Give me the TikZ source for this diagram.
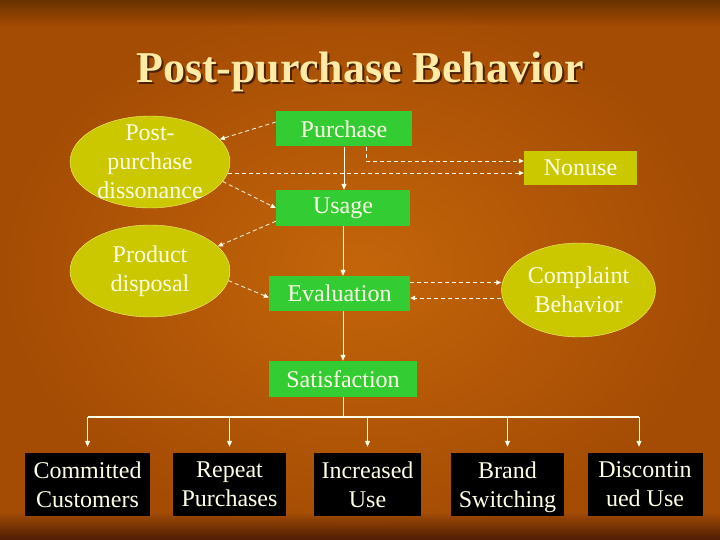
\documentclass[tikz,border=0pt]{standalone}
\usepackage{fontspec}
\setmainfont{Liberation Serif}
\usetikzlibrary{calc, shapes.geometric, fadings, arrows.meta}

\definecolor{bglight}{HTML}{C4650A}
\definecolor{bgdark}{HTML}{A44C04}
\definecolor{bgbottom}{HTML}{4E1C04}
\definecolor{bgtop}{HTML}{6A3200}
\definecolor{stepgreen}{HTML}{33CC33}
\definecolor{olivefill}{HTML}{CCC800}
\definecolor{olivedraw}{HTML}{F2EE80}
\definecolor{cream}{HTML}{FFFFE8}
\definecolor{titlecol}{HTML}{FFEAA6}
\definecolor{titleshade}{HTML}{4A2006}

\tikzfading[name=fadeband, top color=transparent!100, bottom color=transparent!0]
\tikzfading[name=fadetop, top color=transparent!0, bottom color=transparent!100]

\begin{document}
\begin{tikzpicture}[x=1pt, y=-1pt,
	every node/.style={text=cream, font=\fontsize{24}{28.8}\selectfont},
	greenbox/.style={fill=stepgreen, minimum height=35pt, inner sep=0pt},
	oval/.style={ellipse, fill=olivefill, draw=olivedraw, thin, align=center,
		minimum width=160pt, minimum height=92pt, inner xsep=0pt, inner ysep=-12pt},
	outbox/.style={fill=black, align=center, minimum height=63pt, inner sep=0pt},
	flow/.style={draw=cream, line width=1pt, -{Triangle[length=6pt, width=5pt]}},
	dashflow/.style={draw=cream, line width=0.8pt, dash pattern=on 4pt off 3pt,
		-{Triangle[length=5pt, width=4.5pt]}}]

	% Sfondo
	\useasboundingbox (0,0) rectangle (720,540);
	\shade[inner color=bglight, outer color=bgdark] (0,0) rectangle (720,540);
	\fill[bgtop, path fading=fadetop] (0,0) rectangle (720,26);
	\fill[bgbottom, path fading=fadeband] (0,512) rectangle (720,540);

	% Titolo
	\node[text=titleshade, font=\fontsize{44}{50}\bfseries] (titleshadow) at (362,74) {Post-purchase Behavior};
	\node[text=titlecol, font=\fontsize{44}{50}\bfseries] (title) at (360,72) {Post-purchase Behavior};

	% Fasi principali
	\node[greenbox, minimum width=136pt] (purchase) at (344,129) {Purchase};
	\node[greenbox, minimum width=134pt, minimum height=36pt] (usage) at (343,208) {Usage};
	\node[greenbox, minimum width=141pt] (eval) at (339.5,293.5) {Evaluation};
	\node[greenbox, minimum width=148pt, minimum height=36pt] (satisf) at (343,379) {Satisfaction};

	% Esiti laterali
	\node[fill=olivefill, minimum width=113pt, minimum height=34pt, inner sep=0pt] (nonuse) at (580.5,168) {Nonuse};
	\node[oval] (ppd) at (150,162) {Post-\\purchase\\dissonance};
	\node[oval] (pd) at (150,271) {Product\\disposal};
	\node[oval, minimum width=154pt, minimum height=94pt] (cb) at (578.5,290) {Complaint\\Behavior};

	% Esiti finali
	\node[outbox, minimum width=125pt] (cc) at (87.5,484.5) {Committed\\Customers};
	\node[outbox, minimum width=113pt] (rp) at (229.5,484.5) {Repeat\\Purchases};
	\node[outbox, minimum width=107pt] (iu) at (367.5,484.5) {Increased\\Use};
	\node[outbox, minimum width=113pt] (bs) at (507.5,484.5) {Brand\\\smash{Switching}};
	\node[outbox, minimum width=115pt] (du) at (645,484.5) {Discontin\\ued Use};

	% Flusso principale
	\draw[flow] (purchase.south) -- (purchase.south |- usage.north);
	\draw[flow] (usage.south) -- (usage.south |- eval.north);
	\draw[flow] (satisf.north |- eval.south) -- (satisf.north);

	% Diramazione dalla soddisfazione
	\coordinate (bar) at (343,417);
	\draw[draw=cream, line width=1pt] (satisf.south) -- (bar);
	\draw[draw=cream, line width=1.8pt] (cc.north |- bar) -- ($(du.north |- bar)+(-6,0)$);
	\foreach \b in {cc, rp, iu, bs}
		\draw[flow] (\b.north |- bar) -- ($(\b.north)+(0,-6)$);
	\draw[flow] ($(du.north |- bar)+(-6,0)$) -- ($(du.north)+(-6,-6)$);

	% Collegamenti tratteggiati
	\coordinate (nonin1) at ($(nonuse.west)+(0,-7)$);
	\coordinate (nonin2) at ($(nonuse.west)+(0,5)$);
	\coordinate (evalout) at ($(eval.east)+(0,-11)$);
	\coordinate (evalin) at ($(eval.east)+(0,4.5)$);
	\draw[dashflow] ($(purchase.west)+(0,-7)$) -- (ppd.18);
	\draw[dashflow] ($(purchase.south)+(22,0)$) |- (nonin1);
	\draw[dashflow] ($(ppd.east |- nonin2)+(-2,0)$) -- (nonin2);
	\draw[dashflow] (ppd.-15) -- (usage.west);
	\draw[dashflow] ($(usage.south west)+(0,-5)$) -- (pd.20);
	\draw[dashflow] (pd.-7) -- ($(eval.west)+(0,4)$);
	\draw[dashflow] (evalout) -- (cb.west |- evalout);
	\draw[dashflow] (cb.west |- evalin) -- (evalin);
\end{tikzpicture}
\end{document}
